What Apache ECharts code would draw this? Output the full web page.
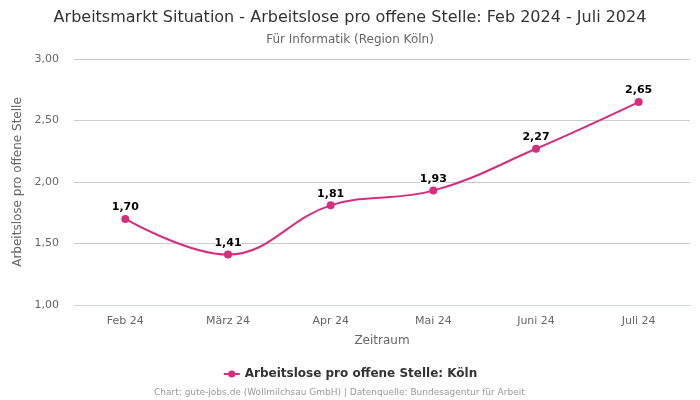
<!DOCTYPE html>
<html><head><meta charset="utf-8">
<script src="https://cdn.jsdelivr.net/npm/echarts@6/dist/echarts.min.js"></script>
<style>html,body{margin:0;padding:0;background:#fff}#c{width:700px;height:400px}</style>
</head><body><div id="c"></div>
<script>
const categories = ['Feb 24', 'März 24', 'Apr 24', 'Mai 24', 'Juni 24', 'Juli 24'];
const values = [1.70, 1.41, 1.81, 1.93, 2.27, 2.65];
const seriesName = 'Arbeitslose pro offene Stelle: Köln';
const yTicks = [1.0, 1.5, 2.0, 2.5, 3.0];

const font = '"DejaVu Sans", sans-serif';
const fmt = v => v.toFixed(2).replace('.', ',');
const chart = echarts.init(document.getElementById('c'), null, {renderer: 'canvas'});
chart.setOption({
  animation: false,
  backgroundColor: '#fff',
  title: [
    {text: 'Arbeitsmarkt Situation - Arbeitslose pro offene Stelle: Feb 2024 - Juli 2024', left: 'center', top: 5,
     textStyle: {fontFamily: font, fontSize: 16, fontWeight: 'normal', color: '#333'}},
    {text: 'Für Informatik (Region Köln)', left: 'center', top: 29,
     textStyle: {fontFamily: font, fontSize: 12, fontWeight: 'normal', color: '#666'}},
    {text: 'Chart: gute-jobs.de (Wollmilchsau GmbH) | Datenquelle: Bundesagentur für Arbeit', left: 149, top: 383,
     textStyle: {fontFamily: font, fontSize: 9, fontWeight: 'normal', color: '#999'}}
  ],
  legend: {
    top: 363, left: 'center', itemWidth: 16, itemHeight: 9, itemGap: 10,
    data: [seriesName],
    textStyle: {fontFamily: font, fontSize: 12, fontWeight: 'bold', color: '#333'}
  },
  grid: {left: 74, right: 10, top: 59, bottom: 95},
  xAxis: {
    type: 'category', data: categories, boundaryGap: true,
    name: 'Zeitraum', nameLocation: 'middle', nameGap: 30,
    nameTextStyle: {fontFamily: font, fontSize: 12, color: '#666'},
    axisLine: {lineStyle: {color: '#ccd6eb'}},
    axisTick: {show: false},
    axisLabel: {fontFamily: font, fontSize: 11, color: '#666', margin: 11}
  },
  yAxis: {
    type: 'value', min: 1, max: 3, interval: 0.5,
    name: 'Arbeitslose pro offene Stelle', nameLocation: 'middle', nameGap: 45,
    nameTextStyle: {fontFamily: font, fontSize: 12, color: '#666'},
    axisLine: {show: false}, axisTick: {show: false},
    splitLine: {lineStyle: {color: '#cccccc'}},
    axisLabel: {fontFamily: font, fontSize: 11, color: '#666', margin: 15, formatter: v => fmt(v)}
  },
  series: [{
    name: seriesName, type: 'line', data: values, smooth: 0.4,
    color: '#d42f7e', symbol: 'circle', symbolSize: 8,
    lineStyle: {width: 2},
    label: {show: true, position: 'top', distance: 2, formatter: p => fmt(p.value),
      fontFamily: font, fontSize: 11, fontWeight: 'bold', color: '#000',
      textBorderColor: '#fff', textBorderWidth: 2}
  }]
});
</script></body></html>
